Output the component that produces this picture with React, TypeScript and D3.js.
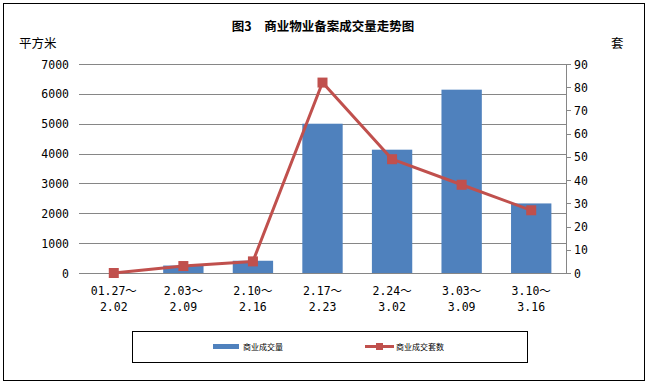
import React from "react";
import * as d3 from "d3";

const categories = ["01.27～|2.02", "2.03～|2.09", "2.10～|2.16", "2.17～|2.23", "2.24～|3.02", "3.03～|3.09", "3.10～|3.16"];
const areaValues = [0, 250, 410, 5000, 4130, 6140, 2330];
const unitValues = [0, 3, 5, 82, 49, 38, 27];
const leftTicks = [0, 1000, 2000, 3000, 4000, 5000, 6000, 7000];
const rightTicks = [0, 10, 20, 30, 40, 50, 60, 70, 80, 90];
const seriesNames = ["商业成交量", "商业成交套数"];
const title = "图3　商业物业备案成交量走势图";

const W = 648, H = 383;
const plot = { left: 79, right: 566, top: 64, bottom: 273 };
const BAR = "#4F81BD", LINE = "#C0504D";
const numFont = "'DejaVu Sans Mono', 'Liberation Mono', 'Noto Sans CJK SC', monospace";
const cjkFont = "'Noto Sans CJK SC', sans-serif";

export default function App() {
  const x = d3.scaleBand<string>().domain(categories).range([plot.left, plot.right]).paddingInner(0.42).paddingOuter(0.21);
  const xc = d3.scalePoint<string>().domain(categories).range([plot.left, plot.right]).padding(0.5);
  const yL = d3.scaleLinear().domain([0, 7000]).range([plot.bottom, plot.top]);
  const yR = d3.scaleLinear().domain([0, 90]).range([plot.bottom, plot.top]);
  const line = d3.line<number>().x((_, i) => xc(categories[i])!).y(d => yR(d));

  return (
    <svg width={W} height={H} style={{ position: "absolute", left: 0, top: 0 }}>
      <rect x={0} y={0} width={W} height={H} fill="#fff" />
      <rect x={3.5} y={3.5} width={641} height={377} fill="none" stroke="#000" strokeWidth={1} />
      <text x={323} y={31} textAnchor="middle" fontFamily={cjkFont} fontWeight="bold" fontSize={12.5}>{title}</text>
      <text x={19} y={48} fontFamily={cjkFont} fontSize={12.5}>平方米</text>
      <text x={611} y={48} fontFamily={cjkFont} fontSize={12.5}>套</text>

      {leftTicks.map(t => (
        <g key={"l" + t}>
          <line x1={plot.left} x2={plot.right} y1={Math.round(yL(t)) + 0.5} y2={Math.round(yL(t)) + 0.5} stroke="#868686" strokeWidth={1} />
          <text x={69} y={yL(t) + 4.5} textAnchor="end" fontFamily={numFont} fontSize={11.5}>{t}</text>
        </g>
      ))}

      {categories.map((c, i) => (
        <rect key={c} x={x(c)!} y={yL(areaValues[i])} width={x.bandwidth()} height={plot.bottom - yL(areaValues[i])} fill={BAR} />
      ))}

      <line x1={plot.left} x2={plot.right} y1={plot.bottom + 0.5} y2={plot.bottom + 0.5} stroke="#868686" />
      <line x1={plot.right + 0.5} x2={plot.right + 0.5} y1={plot.top} y2={plot.bottom + 1} stroke="#868686" />
      {rightTicks.map(t => (
        <g key={"r" + t}>
          <line x1={plot.right} x2={plot.right + 5} y1={Math.round(yR(t)) + 0.5} y2={Math.round(yR(t)) + 0.5} stroke="#868686" />
          <text x={574} y={yR(t) + 4.5} fontFamily={numFont} fontSize={11.5}>{t}</text>
        </g>
      ))}

      <path d={line(unitValues)!} fill="none" stroke={LINE} strokeWidth={3} strokeLinejoin="round" />
      {unitValues.map((v, i) => (
        <rect key={"m" + i} x={xc(categories[i])! - 5} y={yR(v) - 5} width={10} height={10} fill={LINE} />
      ))}

      {categories.map(c => {
        const [a, b] = c.split("|");
        return (
          <g key={"t" + c}>
            <text x={xc(c)!} y={295} textAnchor="middle" fontFamily={numFont} fontSize={11.5}>{a}</text>
            <text x={xc(c)!} y={311} textAnchor="middle" fontFamily={numFont} fontSize={11.5}>{b}</text>
          </g>
        );
      })}

      <rect x={132.5} y={331.5} width={395} height={31} fill="none" stroke="#000" strokeWidth={1} />
      <rect x={213} y={344} width={26} height={5} fill={BAR} />
      <text x={243} y={350} fontFamily={cjkFont} fontSize={8}>{seriesNames[0]}</text>
      <line x1={365} x2={394} y1={346.5} y2={346.5} stroke={LINE} strokeWidth={3} />
      <rect x={376} y={343} width={7} height={7} fill={LINE} />
      <text x={396} y={350} fontFamily={cjkFont} fontSize={8}>{seriesNames[1]}</text>
    </svg>
  );
}
